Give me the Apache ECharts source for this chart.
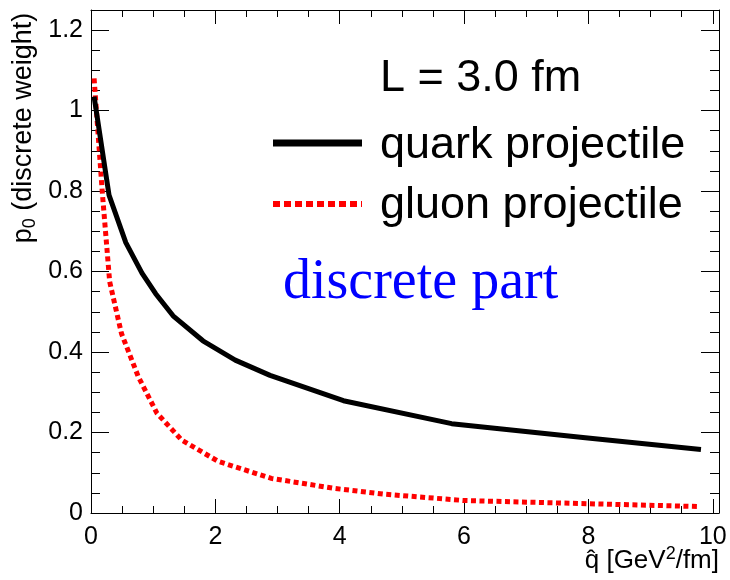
<!DOCTYPE html>
<html>
<head>
<meta charset="utf-8">
<script src="https://cdn.jsdelivr.net/npm/echarts@6/dist/echarts.min.js"></script>
<style>
  html, body { margin: 0; padding: 0; background: #fff; }
  #chart { width: 730px; height: 580px; }
</style>
</head>
<body>
<div id="chart"></div>
<script>
// Discrete weight p0 as a function of qhat for a medium of length L = 3.0 fm
const qhatQuark = [0.05, 0.29, 0.56, 0.82, 1.04, 1.32, 1.8, 2.32, 2.88, 4.06, 5.8, 7.95, 9.81];
const p0Quark   = [1.035, 0.79, 0.672, 0.596, 0.545, 0.49, 0.428, 0.38, 0.342, 0.279, 0.222, 0.187, 0.158];
const qhatGluon = [0.05, 0.18, 0.3, 0.49, 0.76, 1.06, 1.46, 2.05, 2.9, 3.92, 4.7, 6.0, 9.79];
const p0Gluon   = [1.08, 0.80, 0.575, 0.446, 0.339, 0.248, 0.181, 0.128, 0.086, 0.061, 0.047, 0.031, 0.016];

const xTickLabels = ['0', '2', '4', '6', '8', '10'];
const yTickLabels = ['0', '0.2', '0.4', '0.6', '0.8', '1', '1.2'];

const seriesNames = ['quark projectile', 'gluon projectile'];
const mediumLabel = 'L = 3.0 fm';
const partLabel = 'discrete part';

const FONT = "'Liberation Sans', Arial, Helvetica, sans-serif";
const SERIF = "'Liberation Serif', 'Times New Roman', serif";

const X_MIN = 0, X_MAX = 10.1, Y_MIN = 0, Y_MAX = 1.25;

function pairs(xs, ys) { return xs.map((x, i) => [x, ys[i]]); }

function labelFor(list, step) {
  return function (v) {
    const i = Math.round(v / step);
    return Math.abs(v - i * step) < 1e-6 && list[i] !== undefined ? list[i] : '';
  };
}

function xAxisDef(position, interval, tickLen, withLabels, withLine) {
  return {
    type: 'value', gridIndex: 0, position: position, min: X_MIN, max: X_MAX, interval: interval,
    splitLine: { show: false },
    axisLine: { show: withLine, onZero: false, lineStyle: { color: '#000', width: 1 } },
    axisTick: { show: true, inside: true, length: tickLen, lineStyle: { color: '#000', width: 1 } },
    axisLabel: withLabels ? {
      show: true, color: '#000', fontSize: 25, fontFamily: FONT, margin: 12,
      showMaxLabel: false, formatter: labelFor(xTickLabels, 2)
    } : { show: false }
  };
}

function yAxisDef(position, interval, tickLen, withLabels, withLine) {
  return {
    type: 'value', gridIndex: 0, position: position, min: Y_MIN, max: Y_MAX, interval: interval,
    splitLine: { show: false },
    axisLine: { show: withLine, onZero: false, lineStyle: { color: '#000', width: 1 } },
    axisTick: { show: true, inside: true, length: tickLen, lineStyle: { color: '#000', width: 1 } },
    axisLabel: withLabels ? {
      show: true, color: '#000', fontSize: 25, fontFamily: FONT, margin: 8,
      showMaxLabel: false, formatter: labelFor(yTickLabels, 0.2)
    } : { show: false }
  };
}

const chart = echarts.init(document.getElementById('chart'), null, { renderer: 'canvas' });

chart.setOption({
  animation: false,
  backgroundColor: '#fff',
  grid: { left: 91, top: 10, width: 628, height: 503, outerBoundsMode: 'none', containLabel: false },
  xAxis: [
    xAxisDef('bottom', 2, 14, true, true),
    xAxisDef('bottom', 0.5, 7, false, false),
    xAxisDef('top', 2, 14, false, true),
    xAxisDef('top', 0.5, 7, false, false)
  ],
  yAxis: [
    yAxisDef('left', 0.2, 18, true, true),
    yAxisDef('left', 0.05, 9, false, false),
    yAxisDef('right', 0.2, 18, false, true),
    yAxisDef('right', 0.05, 9, false, false)
  ],
  series: [
    {
      name: seriesNames[0], type: 'line', xAxisIndex: 0, yAxisIndex: 0,
      data: pairs(qhatQuark, p0Quark), showSymbol: false, symbol: 'none', smooth: false,
      lineStyle: { color: '#000', width: 5, cap: 'butt', join: 'round' }, z: 3
    },
    {
      name: seriesNames[1], type: 'line', xAxisIndex: 0, yAxisIndex: 0,
      data: pairs(qhatGluon, p0Gluon), showSymbol: false, symbol: 'none', smooth: false,
      lineStyle: { color: '#ff0000', width: 5, type: [5, 3.5], cap: 'butt' }, z: 2
    }
  ],
  graphic: [
    // axis titles
    {
      type: 'text', right: 11, top: 545,
      style: {
        text: '{n|q\u0302 [GeV}{s|2}{n|/fm]}',
        rich: {
          n: { fontSize: 26, fontFamily: FONT, lineHeight: 32, verticalAlign: 'middle', fill: '#000' },
          s: { fontSize: 18, fontFamily: FONT, lineHeight: 18, verticalAlign: 'top', fill: '#000' }
        }
      }
    },
    {
      type: 'text', x: 24, y: 128, rotation: Math.PI / 2,
      style: {
        text: '{n|p}{s|0}{n| (discrete weight)}',
        align: 'center', verticalAlign: 'middle',
        rich: {
          n: { fontSize: 27, fontFamily: FONT, lineHeight: 30, verticalAlign: 'middle', fill: '#000' },
          s: { fontSize: 18, fontFamily: FONT, lineHeight: 18, verticalAlign: 'bottom', fill: '#000' }
        }
      }
    },
    // legend
    {
      type: 'text', x: 380, y: 79,
      style: { text: mediumLabel, fontSize: 45, fontFamily: FONT, fill: '#000', align: 'left', verticalAlign: 'middle' }
    },
    {
      type: 'line', shape: { x1: 273, y1: 143, x2: 362, y2: 143 },
      style: { stroke: '#000', lineWidth: 7 }
    },
    {
      type: 'text', x: 380, y: 146,
      style: { text: seriesNames[0], fontSize: 45, fontFamily: FONT, fill: '#000', align: 'left', verticalAlign: 'middle' }
    },
    {
      type: 'line', shape: { x1: 273, y1: 204, x2: 362, y2: 204 },
      style: { stroke: '#ff0000', lineWidth: 6, lineDash: [7, 4] }
    },
    {
      type: 'text', x: 380, y: 206,
      style: { text: seriesNames[1], fontSize: 45, fontFamily: FONT, fill: '#000', align: 'left', verticalAlign: 'middle' }
    },
    {
      type: 'text', x: 283, y: 283,
      style: { text: partLabel, fontSize: 56, fontFamily: SERIF, fill: '#0000ff', align: 'left', verticalAlign: 'middle' }
    }
  ]
});
</script>
</body>
</html>
